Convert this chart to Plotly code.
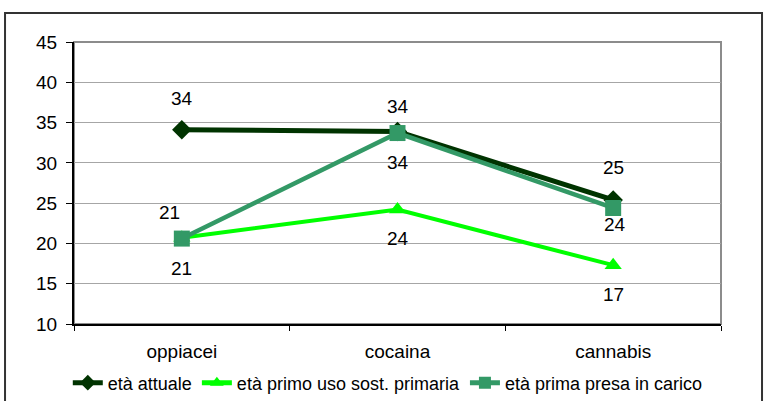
import plotly.graph_objects as go

# Categorie (sostanza primaria) e serie di età medie
categorie = ["oppiacei", "cocaina", "cannabis"]
eta_attuale = [34.1, 33.9, 25.4]
eta_primo_uso = [20.7, 24.2, 17.3]
eta_prima_presa = [20.6, 33.7, 24.4]

nomi_serie = ["età attuale", "età primo uso sost. primaria", "età prima presa in carico"]
y_ticks = [10, 15, 20, 25, 30, 35, 40, 45]

FONT = "Liberation Sans, Arial, sans-serif"
FS = 19
COLORI = ["#003300", "#00FF00", "#339966"]
SIMBOLI = ["diamond", "triangle-up", "square"]
DIM_MARKER = [15, 15, 16]
SPESSORI = [5, 4, 4.5]

# spostamenti (px) delle etichette valore rispetto al punto
spost_etichette = [
    [(0, 31), (0, 25), (0, 32)],
    [(0, -31), (0, -29), (0, -29)],
    [(-12, 26), (0, -29), (2, -17)],
]

serie = [eta_attuale, eta_primo_uso, eta_prima_presa]

fig = go.Figure()
for nome, valori, col, sim, dim, sp in zip(nomi_serie, serie, COLORI, SIMBOLI, DIM_MARKER, SPESSORI):
    fig.add_trace(go.Scatter(
        x=categorie, y=valori, name=nome, mode="lines+markers",
        line=dict(color=col, width=sp),
        marker=dict(symbol=sim, size=dim, color=col),
    ))

for valori, spost in zip(serie, spost_etichette):
    for cat, v, (dx, dy) in zip(categorie, valori, spost):
        fig.add_annotation(
            x=cat, y=v, text=f"{v:.0f}", showarrow=False,
            xshift=dx, yshift=dy,
            font=dict(family=FONT, size=FS, color="#000000"),
        )

# cornice esterna del grafico
fig.add_shape(type="rect", xref="paper", yref="paper",
              x0=-0.1066, x1=1.0634, y0=-0.32, y1=1.1028,
              line=dict(color="#333333", width=2), layer="below")
# bordo grigio dell'area del tracciato
fig.add_shape(type="rect", xref="paper", yref="paper",
              x0=0, x1=1, y0=0, y1=1,
              line=dict(color="#8c8c8c", width=2), layer="below")

fig.update_layout(
    width=766, height=401,
    margin=dict(l=74, r=45, t=42, b=77, autoexpand=False),
    paper_bgcolor="white", plot_bgcolor="white",
    font=dict(family=FONT, size=FS, color="#000000"),
    showlegend=True,
    legend=dict(orientation="h", x=0.485, xanchor="center", y=-0.209, yanchor="middle",
                font=dict(family=FONT, size=18), itemwidth=30, itemsizing="constant",
                bgcolor="rgba(0,0,0,0)", tracegroupgap=0),
    xaxis=dict(type="category", showgrid=False, showline=True, linecolor="#000000",
               linewidth=2, ticks="outside", tickson="boundaries", ticklen=5,
               tickcolor="#000000", ticklabelstandoff=9, range=[-0.5, 2.5],
               automargin=False, tickfont=dict(family=FONT, size=FS)),
    yaxis=dict(range=[10, 45], tickvals=y_ticks, ticktext=[str(t) for t in y_ticks],
               showgrid=True, gridcolor="#a6a6a6", gridwidth=1,
               showline=True, linecolor="#000000", linewidth=2,
               ticks="outside", ticklen=6, tickcolor="#000000",
               ticklabelstandoff=5, zeroline=False, automargin=False,
               tickfont=dict(family=FONT, size=FS)),
)

fig.write_html("out.html")
